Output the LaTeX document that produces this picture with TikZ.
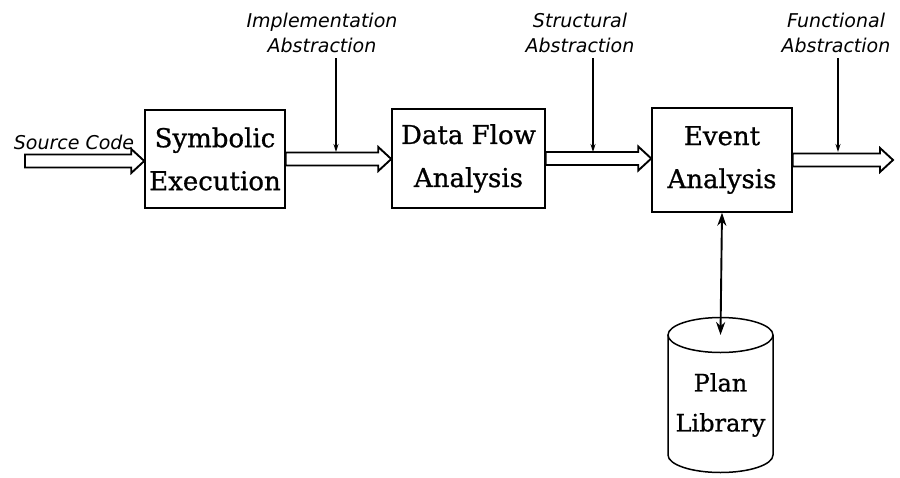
\documentclass[tikz,border=0pt]{standalone}
\usepackage{fontspec}
\setmainfont{DejaVu Serif}
\newfontfamily\boxfont{DejaVu Serif}[FakeBold=0.8]
\newfontfamily\labfont{DejaVu Sans}
\usetikzlibrary{arrows.meta,calc}
\tikzset{
  procbox/.style={draw, line width=1.5pt, fill=white, align=center, inner sep=0pt,
    font=\boxfont\fontsize{26}{43}\selectfont},
  lab/.style={align=center, inner sep=0pt, font=\labfont\itshape\fontsize{19}{25}\selectfont},
  harrow/.style={draw, line width=1.9pt, fill=white, line join=miter},
  thinarrow/.style={line width=1.2pt, -{Stealth[length=8pt,width=5pt]}},
  duoarrow/.style={line width=1.9pt, {Stealth[length=13pt,width=9pt]}-{Stealth[length=13pt,width=9pt]}},
}
\newcommand{\myharrow}[2]{%
  \path[harrow] let \p1=(#1), \p2=(#2) in
    (\x1,\y1+6.5pt) -- (\x2-13pt,\y1+6.5pt) -- (\x2-13pt,\y1+12pt) -- (\x2,\y1)
    -- (\x2-13pt,\y1-12pt) -- (\x2-13pt,\y1-6.5pt) -- (\x1,\y1-6.5pt) -- cycle;}
\begin{document}
\begin{tikzpicture}[x=1pt,y=-1pt]
\useasboundingbox (0,0) rectangle (900,477);
% boxes
\node[procbox, minimum width=140, minimum height=98] (se) at (215,159) {Symbolic\\Execution};
\node[procbox, minimum width=153, minimum height=99] (df) at (468.5,158.5) {Data Flow\\Analysis};
\node[procbox, minimum width=140, minimum height=104] (ea) at (722,160) {Event\\Analysis};
% labels
\node[lab] (srcl) at (74,142) {Source Code};
\node[lab] (impl) at (322,33) {Implementation\\Abstraction};
\node[lab] (strl) at (580,33) {Structural\\Abstraction};
\node[lab] (funl) at (836,33) {Functional\\Abstraction};
% coordinates
\coordinate (src) at (25,161);
\coordinate (out) at (893,158.5);
\coordinate (i1) at (336,152);
\coordinate (s1) at (593,152);
\coordinate (f1) at (838,152);
% hollow arrows
\myharrow{src}{se.west}
\myharrow{se.east}{df.west}
\myharrow{df.east}{ea.west}
\myharrow{ea.east}{out}
% thin arrows
\draw[thinarrow] (impl.south -| i1) ++(0,5) -- (i1);
\draw[thinarrow] (strl.south -| s1) ++(0,5) -- (s1);
\draw[thinarrow] (funl.south -| f1) ++(0,5) -- (f1);
% cylinder
\coordinate (ctop) at (720.5,335);
\draw[line width=1.5pt] (ctop) ellipse [x radius=52.5, y radius=17.5];
\draw[line width=1.5pt] (668,335) -- (668,455) arc[start angle=180, end angle=0, x radius=52.5, y radius=17.5] -- (773,335);
\node[align=center, inner sep=0pt, font=\boxfont\fontsize{24}{40}\selectfont] (plib) at (720.5,405) {Plan\\Library};
\draw[duoarrow] (ea.south) -- (ctop);
\end{tikzpicture}
\end{document}
